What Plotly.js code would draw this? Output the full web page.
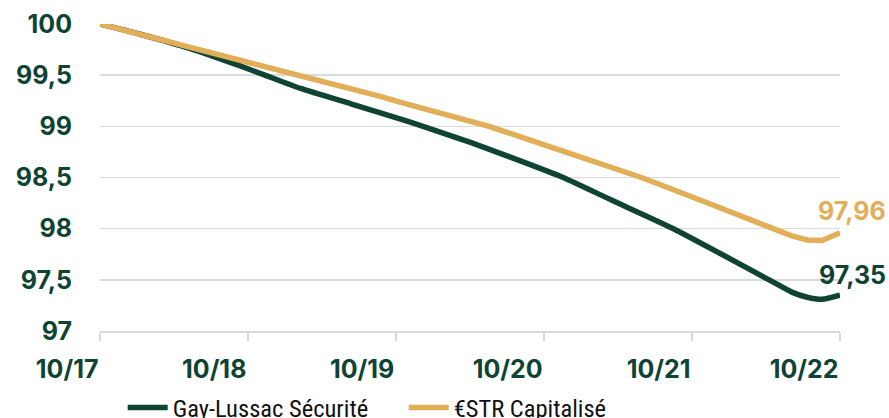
<!DOCTYPE html>
<html>
<head>
<meta charset="utf-8">
<script src="https://cdn.plot.ly/plotly-3.0.1.min.js"></script>
<style>
  html, body { margin: 0; padding: 0; background: #ffffff; }
  #chart { width: 889px; height: 418px; }
</style>
</head>
<body>
<div id="chart"></div>
<script>
// ---- Data ----
const seriesNames = ["Gay-Lussac Sécurité", "€STR Capitalisé"];

const gayDates = ["2017-10-31","2018-02-07","2018-06-11","2018-10-12","2018-12-12","2019-03-10","2019-07-12","2019-11-12","2020-01-06","2020-05-04","2020-09-04","2020-12-17","2021-04-15","2021-09-15","2022-01-12","2022-05-09","2022-07-04","2022-08-11","2022-09-17","2022-10-31"];
const gayValues = [100, 99.90, 99.76, 99.59, 99.50, 99.37, 99.22, 99.07, 99.00, 98.84, 98.66, 98.50, 98.28, 98.00, 97.75, 97.50, 97.38, 97.33, 97.31, 97.35];

const estrDates = ["2017-10-31","2018-03-04","2018-07-05","2018-11-06","2019-03-10","2019-07-12","2019-09-25","2019-11-12","2020-03-15","2020-06-17","2020-10-24","2021-02-25","2021-06-28","2021-10-30","2022-03-03","2022-05-23","2022-07-04","2022-08-11","2022-09-17","2022-10-31"];
const estrValues = [100, 99.875, 99.75, 99.625, 99.50, 99.367, 99.29, 99.234, 99.10, 99.00, 98.829, 98.665, 98.50, 98.312, 98.124, 98.00, 97.93, 97.89, 97.885, 97.96];

const tickDates = ["2017-10-31","2018-10-31","2019-10-31","2020-10-31","2021-10-31","2022-10-31"];
const tickLabels = ["10/17","10/18","10/19","10/20","10/21","10/22"];
const yTicks = [97, 97.5, 98, 98.5, 99, 99.5, 100];

// ---- Styles ----
const green = "#0f4434";
const gold = "#e2ae58";
const gridCol = "#dadada";
const tickFont = { family: "Inter, 'Open Sans', sans-serif", size: 25, color: green, weight: 700 };

const fmt = v => v.toFixed(2).replace(".", ",");

const traces = [
  { x: gayDates, y: gayValues, name: seriesNames[0], type: "scatter", mode: "lines",
    line: { color: green, width: 5.5, shape: "spline", smoothing: 0.5 }, hoverinfo: "skip" },
  { x: estrDates, y: estrValues, name: seriesNames[1], type: "scatter", mode: "lines",
    line: { color: gold, width: 5.5 }, hoverinfo: "skip" }
];

const annotations = [
  { x: gayDates[gayDates.length-1], y: gayValues[gayValues.length-1], text: fmt(gayValues[gayValues.length-1]),
    showarrow: false, xanchor: "center", yanchor: "middle", xshift: 12, yshift: 20,
    font: Object.assign({}, tickFont, { color: green }) },
  { x: estrDates[estrDates.length-1], y: estrValues[estrValues.length-1], text: fmt(estrValues[estrValues.length-1]),
    showarrow: false, xanchor: "center", yanchor: "middle", xshift: 12, yshift: 22,
    font: Object.assign({}, tickFont, { color: gold }) }
];

const layout = {
  width: 889, height: 418,
  margin: { l: 100, r: 49, t: 24, b: 87 },
  paper_bgcolor: "#ffffff", plot_bgcolor: "#ffffff",
  separators: ", ",
  showlegend: true,
  legend: {
    orientation: "h", xref: "container", yref: "container",
    x: 0.138, xanchor: "left", y: 0.025, yanchor: "middle",
    font: { family: "'Liberation Sans Narrow', 'Roboto Condensed', Roboto, sans-serif", size: 24.5, color: "#111111" },
    itemwidth: 40, entrywidth: 226, tracegroupgap: 0, bgcolor: "rgba(0,0,0,0)"
  },
  xaxis: {
    type: "date", range: [tickDates[0], tickDates[tickDates.length-1]],
    tickmode: "array", tickvals: tickDates, ticktext: tickLabels,
    showgrid: false, zeroline: false,
    showline: true, linecolor: gridCol, linewidth: 1.5,
    ticks: "outside", ticklen: 8, tickwidth: 1.5, tickcolor: gridCol,
    ticklabelposition: "outside left", ticklabelstandoff: 15,
    tickfont: tickFont, fixedrange: true
  },
  xaxis2: {
    type: "date", overlaying: "x", matches: "x", side: "bottom",
    range: [tickDates[0], tickDates[tickDates.length-1]],
    tickmode: "array", tickvals: tickDates, ticktext: tickLabels,
    showgrid: false, zeroline: false, showline: false,
    ticks: "inside", ticklen: 8, tickwidth: 1.5, tickcolor: gridCol,
    showticklabels: false
  },
  yaxis: {
    range: [97, 100], tickmode: "array", tickvals: yTicks,
    showgrid: true, gridcolor: gridCol, gridwidth: 1.5,
    zeroline: false, showline: false, ticks: "",
    ticklabelstandoff: 27, tickfont: tickFont, fixedrange: true
  },
  annotations: annotations
};

Plotly.newPlot("chart", traces, layout, { displayModeBar: false, staticPlot: true });
</script>
</body>
</html>
